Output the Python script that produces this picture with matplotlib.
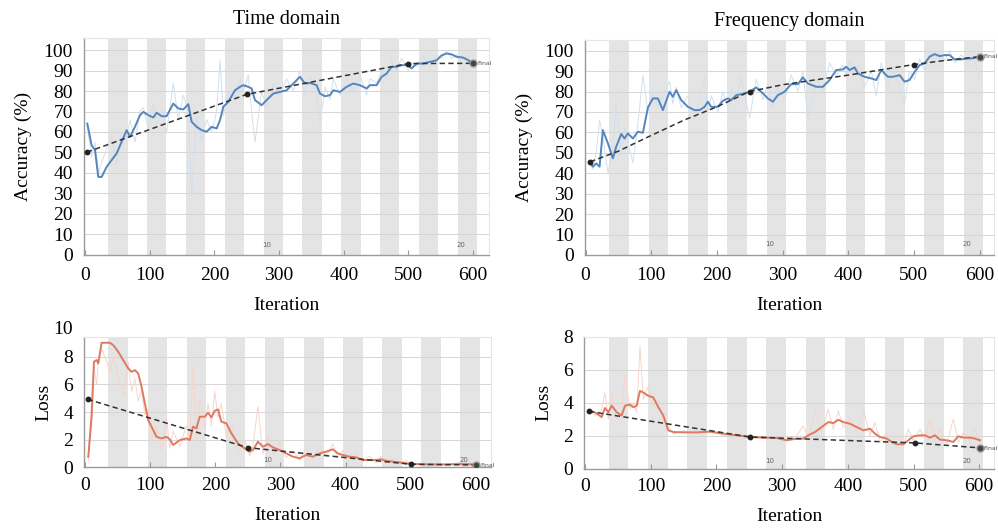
import matplotlib
matplotlib.use('Agg')
import matplotlib.pyplot as plt

plt.rcParams['font.family'] = ['Liberation Serif', 'DejaVu Serif']

# ---- Time domain accuracy ----
tl_x = [3.6, 10.3, 15.5, 20.6, 25.8, 33.5, 41.2, 48.9, 56.7, 64.4,
        69.6, 77.3, 85.0, 90.2, 97.9, 105.6, 110.8, 118.5, 126.2, 136.5,
        144.3, 152.0, 159.7, 164.9, 172.6, 180.3, 188.0, 195.8, 203.5, 208.7,
        213.8, 221.5, 231.8, 239.6, 244.7, 252.4, 257.6, 262.8, 273.1, 280.8,
        291.1, 301.4, 311.7, 322.0, 332.3, 340.0, 347.8, 358.1, 363.2, 371.0,
        378.7, 383.8, 394.1, 404.4, 414.7, 425.0, 435.3, 440.5, 450.8, 458.5,
        466.2, 474.0, 481.7, 489.4, 499.7, 504.9, 512.6, 522.9, 533.2, 543.5,
        551.3, 559.0, 566.7, 574.4, 584.7, 592.5, 599.2]
tl_smooth = [64.1, 53.5, 51.1, 38.0, 38.0, 42.9, 46.2, 49.5, 55.2, 60.9,
             57.6, 62.5, 68.2, 69.8, 68.2, 67.1, 69.4, 67.7, 67.7, 73.9,
             71.5, 71.0, 73.6, 65.0, 62.5, 60.9, 60.1, 62.5, 61.7, 65.8,
             72.3, 74.7, 80.4, 82.1, 82.9, 82.1, 81.3, 75.6, 73.1, 75.6,
             78.8, 79.6, 80.4, 83.7, 87.0, 83.7, 84.0, 82.9, 78.8, 77.5,
             78.0, 80.4, 79.6, 82.1, 83.7, 82.9, 81.3, 82.9, 82.9, 87.0,
             88.6, 91.9, 91.9, 92.7, 92.7, 91.1, 93.5, 93.5, 94.3, 95.1,
             97.5, 98.4, 98.0, 96.8, 96.4, 95.1, 93.8]
tl_raw = [62, 48, 55, 40, 45, 52, 58, 44, 60, 57,
          66, 55, 70, 72, 62, 74, 64, 71, 60, 84,
          66, 78, 70, 29, 68, 55, 66, 60, 70, 95,
          68, 80, 76, 86, 80, 88, 70, 55, 80, 72,
          84, 78, 86, 80, 90, 78, 88, 80, 64, 82,
          76, 86, 78, 86, 80, 88, 78, 86, 84, 90,
          86, 95, 90, 96, 90, 94, 92, 97, 92, 98,
          96, 100, 96, 98, 90, 97, 92]
tl_val_x = [3, 250, 500, 600]
tl_val = [50.1, 78.4, 93.5, 93.6]

# ---- Frequency domain accuracy ----
tr_x = [7.2, 11.2, 16.3, 21.4, 26.4, 34.1, 41.7, 46.7, 54.4, 59.4,
        64.5, 72.1, 79.7, 87.4, 95.0, 102.6, 110.2, 117.8, 128.0, 133.0,
        138.1, 145.7, 155.9, 166.0, 173.6, 181.3, 186.3, 191.4, 201.5, 209.2,
        216.8, 221.9, 229.5, 237.1, 249.8, 259.9, 270.1, 277.7, 285.3, 292.9,
        303.1, 313.2, 323.4, 331.0, 338.6, 351.3, 361.4, 371.6, 381.8, 391.9,
        397.0, 402.1, 409.7, 414.8, 424.9, 435.1, 442.7, 450.3, 460.5, 468.1,
        478.2, 485.8, 493.4, 501.1, 508.7, 516.3, 523.9, 531.5, 539.2, 546.8,
        554.4, 562.0, 572.2, 582.3, 589.9, 600.1]
tr_smooth = [45.6, 43.2, 44.8, 43.2, 61.1, 54.6, 47.3, 53.0, 59.2, 57.0,
             59.5, 57.0, 60.3, 59.8, 72.2, 76.6, 76.6, 70.9, 79.9, 77.4,
             80.7, 75.8, 72.5, 70.9, 70.9, 72.5, 75.0, 72.5, 72.5, 75.5,
             76.6, 75.8, 78.2, 78.7, 79.9, 82.0, 79.1, 76.6, 75.0, 78.2,
             79.9, 83.6, 83.6, 86.9, 83.9, 82.3, 82.3, 85.6, 90.5, 90.8,
             92.1, 90.5, 91.8, 88.8, 87.2, 86.4, 85.6, 90.5, 87.2, 87.2,
             88.0, 84.8, 85.6, 89.6, 92.9, 93.7, 97.0, 98.3, 97.3, 97.8,
             97.8, 95.7, 95.7, 96.2, 96.2, 97.3]
tr_raw = [44, 42, 50, 66, 58, 40, 52, 75, 50, 62,
          55, 45, 64, 88, 70, 80, 72, 78, 85, 74,
          82, 72, 78, 66, 76, 87, 70, 78, 70, 80,
          72, 82, 76, 87, 67, 86, 76, 84, 72, 82,
          76, 88, 80, 90, 67, 86, 80, 94, 88, 93,
          88, 95, 88, 92, 82, 90, 78, 94, 80, 92,
          82, 74, 90, 86, 96, 90, 99, 95, 99, 95,
          100, 94, 98, 94, 98, 87]
tr_val_x = [7, 50, 100, 150, 200, 250, 300, 350, 400, 450, 500, 550, 600]
tr_val = [45.6, 50.8, 58.5, 66.0, 72.5, 80.0, 83.3, 85.7, 88.0, 90.6, 93.2, 95.3, 97.0]
tr_marks = [0, 5, 10, 12]

# ---- Time domain loss ----
bl_x = [5.1, 10.2, 13.8, 17.9, 20.4, 25.5, 38.3, 43.4, 51.0, 58.7,
        66.4, 71.5, 76.6, 81.7, 86.8, 91.9, 97.0, 102.1, 109.7, 117.4,
        125.1, 130.2, 135.3, 145.5, 155.7, 160.8, 165.9, 171.0, 176.1, 183.8,
        188.9, 194.0, 199.1, 204.2, 209.3, 216.9, 224.6, 234.8, 245.0, 252.7,
        257.8, 265.4, 273.1, 280.8, 288.4, 298.6, 308.8, 319.0, 329.3, 339.5,
        349.7, 359.9, 370.1, 380.3, 387.9, 395.6, 405.8, 416.0, 426.2, 436.4,
        446.7, 454.3, 461.9, 472.2, 482.4, 492.6, 502.8, 528.3, 553.8, 579.4,
        599.8]
bl_smooth = [0.77, 3.66, 7.64, 7.76, 7.51, 9.01, 9.01, 8.84, 8.36, 7.75,
             7.15, 6.91, 7.03, 6.79, 5.83, 4.62, 3.42, 2.94, 2.21, 2.09,
             2.21, 2.02, 1.61, 1.97, 2.09, 1.97, 2.94, 2.82, 3.66, 3.66,
             3.95, 3.61, 4.09, 4.19, 3.30, 3.18, 2.46, 1.73, 1.37, 1.13,
             1.25, 1.85, 1.49, 1.68, 1.44, 1.25, 1.01, 0.77, 0.65, 0.89,
             0.77, 1.01, 1.13, 1.30, 1.01, 0.89, 0.77, 0.72, 0.53, 0.53,
             0.53, 0.58, 0.48, 0.41, 0.36, 0.29, 0.24, 0.21, 0.21, 0.24,
             0.21]
bl_raw = [0.5, 5.0, 7.2, 6.0, 7.8, 8.6, 7.0, 8.0, 6.5, 5.2,
          7.6, 5.5, 6.4, 4.8, 5.6, 3.8, 4.2, 1.9, 3.0, 1.2,
          3.5, 1.4, 2.6, 1.5, 3.0, 2.0, 7.3, 2.0, 5.0, 2.8,
          4.6, 3.0, 5.5, 3.6, 4.6, 2.2, 3.0, 1.0, 2.0, 0.8,
          1.6, 4.4, 1.0, 2.2, 0.9, 1.8, 0.7, 1.2, 0.5, 1.4,
          0.6, 1.5, 0.8, 1.7, 0.7, 1.2, 0.5, 1.0, 0.4, 0.8,
          0.3, 0.8, 0.3, 0.6, 0.2, 0.5, 0.2, 0.3, 0.15, 0.4,
          0.2]
bl_val_x = [4, 250, 500, 600]
bl_val = [4.92, 1.42, 0.22, 0.17]

# ---- Frequency domain loss ----
br_x = [6.1, 15.2, 25.4, 30.4, 35.5, 40.6, 48.2, 55.8, 60.9, 68.5,
        73.6, 78.6, 83.7, 88.8, 96.4, 104.0, 111.6, 119.2, 126.8, 134.5,
        149.7, 170.0, 190.3, 210.6, 230.8, 251.1, 271.4, 291.7, 307.0, 322.2,
        332.3, 339.9, 350.1, 360.2, 370.4, 378.0, 385.6, 393.2, 403.3, 413.5,
        423.6, 433.8, 441.4, 449.0, 459.2, 466.8, 474.4, 484.5, 492.1, 499.7,
        509.9, 517.5, 525.1, 532.7, 540.3, 550.5, 560.6, 568.2, 575.8, 586.0,
        593.6, 601.2]
br_smooth = [3.51, 3.41, 3.12, 3.67, 3.42, 3.81, 3.42, 3.22, 3.81, 3.88,
             3.72, 3.81, 4.71, 4.61, 4.41, 4.31, 3.72, 3.22, 2.32, 2.22,
             2.20, 2.20, 2.24, 2.12, 2.02, 1.92, 1.88, 1.86, 1.72, 1.82,
             1.82, 2.02, 2.22, 2.52, 2.82, 2.76, 2.96, 2.82, 2.72, 2.52,
             2.32, 2.42, 2.12, 1.92, 1.82, 1.62, 1.48, 1.48, 1.72, 1.96,
             2.02, 2.02, 1.88, 2.02, 1.76, 1.72, 1.62, 1.96, 1.88, 1.88,
             1.82, 1.72]
br_raw = [3.6, 3.2, 3.6, 4.6, 3.0, 4.6, 3.0, 3.4, 5.6, 3.6,
          4.0, 3.4, 7.4, 4.2, 5.0, 3.8, 4.2, 2.8, 2.6, 2.1,
          2.3, 2.1, 2.3, 2.0, 2.1, 1.9, 1.9, 1.8, 1.7, 2.0,
          2.6, 1.8, 3.5, 2.2, 3.6, 2.4, 3.5, 2.5, 3.0, 2.2,
          3.6, 2.0, 2.8, 1.6, 2.2, 1.5, 2.0, 1.4, 2.4, 1.7,
          2.4, 1.8, 3.0, 1.7, 2.4, 1.5, 3.0, 1.6, 2.2, 1.7,
          2.4, 1.6]
br_val_x = [6, 251, 502, 601]
br_val = [3.47, 1.92, 1.56, 1.26]

xticks = [0, 100, 200, 300, 400, 500, 600]
acc_ticks = list(range(0, 101, 10))

BLUE = '#5485bd'
BLUE_RAW = '#d2e0ee'
RED = '#de7a60'
RED_RAW = '#f7d5ca'
W, H = 998, 529

fig = plt.figure(figsize=(W / 100, H / 100), dpi=100)


def add_px_axes(left, top, right, bottom):
    return fig.add_axes([left / W, 1 - bottom / H, (right - left) / W, (bottom - top) / H])


def base(ax, xlim, ylim, yticks, ylabel, xpad):
    ax.set_xlim(*xlim)
    ax.set_ylim(*ylim)
    # epoch shading
    for k in range(10):
        ax.axvspan(36 + 60 * k, 66 + 60 * k, color='#e4e4e4', lw=0, zorder=0)
    for t in yticks[1:]:
        ax.axhline(t, color='#d6d6d6', lw=0.7, zorder=0.5)
    ax.set_xticks(xticks)
    ax.set_yticks(yticks)
    ax.tick_params(axis='x', direction='in', length=3.5, width=0.8, color='#999999',
                   labelsize=14, pad=xpad)
    ax.tick_params(axis='y', length=0, labelsize=14, pad=8)
    for s in ['left', 'bottom']:
        ax.spines[s].set_color('#9a9a9a')
        ax.spines[s].set_linewidth(1.0)
    for s in ['top', 'right']:
        ax.spines[s].set_color('#e6e6e6')
        ax.spines[s].set_linewidth(0.8)
    ax.set_xlabel('Iteration', fontsize=14, labelpad=9)
    ax.set_ylabel(ylabel, fontsize=14, labelpad=8)


def small(ax, x, y, s):
    ax.text(x, y, s, fontsize=5, color='#666666', family='DejaVu Sans',
            ha='center', va='center', zorder=4)


def draw(ax, x, raw, smooth, vx, vy, marks, c_raw, c_smooth, epoch_y, final_dy):
    ax.plot(x, raw, color=c_raw, lw=0.7, zorder=1)
    ax.plot(x, smooth, color=c_smooth, lw=1.4, zorder=2)
    ax.plot(vx, vy, color='#333333', lw=1.1, ls=(0, (3.5, 2.2)), zorder=3)
    mx = [vx[i] for i in marks[:-1]]
    my = [vy[i] for i in marks[:-1]]
    ax.plot(mx, my, 'o', color='#222222', ms=3.2, zorder=4)
    ax.plot(vx[marks[-1]], vy[marks[-1]], 'o', mfc='#444444', mec='#999999',
            mew=1.0, ms=5, zorder=4)
    ax.text(vx[marks[-1]] + 6, vy[marks[-1]] + final_dy, 'Final', fontsize=4.5,
            color='#555555', family='DejaVu Sans', va='center', zorder=4)
    small(ax, 281, epoch_y, '10')
    small(ax, 581, epoch_y, '20')


# Time domain accuracy
ax1 = add_px_axes(84, 38, 489, 254.5)
base(ax1, (-1.5, 624.5), (0, 106), acc_ticks, 'Accuracy (%)', 9)
draw(ax1, tl_x, tl_raw, tl_smooth, tl_val_x, tl_val, [0, 1, 2, 3],
     BLUE_RAW, BLUE, 4.5, 0)
ax1.set_title('Time domain', fontsize=14.5, pad=10)

# Frequency domain accuracy
ax2 = add_px_axes(585, 40, 994, 255)
base(ax2, (-0.8, 622), (0, 105.2), acc_ticks, 'Accuracy (%)', 9)
draw(ax2, tr_x, tr_raw, tr_smooth, tr_val_x, tr_val, tr_marks,
     BLUE_RAW, BLUE, 5.5, 0)
ax2.set_title('Frequency domain', fontsize=14.5, pad=10)

# Time domain loss
ax3 = add_px_axes(84, 336.7, 491, 467.3)
base(ax3, (-1.5, 623), (0, 9.45), [0, 2, 4, 6, 8], 'Loss', 7)
ax3.annotate('10', xy=(0, 10), xycoords=('axes fraction', 'data'),
             xytext=(-8, 0), textcoords='offset points', ha='right',
             va='center', fontsize=14, annotation_clip=False)
draw(ax3, bl_x, bl_raw, bl_smooth, bl_val_x, bl_val, [0, 1, 2, 3],
     RED_RAW, RED, 0.55, -0.05)

# Frequency domain loss
ax4 = add_px_axes(584, 336.5, 994, 468.7)
base(ax4, (-1.5, 622.5), (0, 8), [0, 2, 4, 6, 8], 'Loss', 7)
draw(ax4, br_x, br_raw, br_smooth, br_val_x, br_val, [0, 1, 2, 3],
     RED_RAW, RED, 0.45, -0.05)

fig.savefig('out.png', dpi=100)
